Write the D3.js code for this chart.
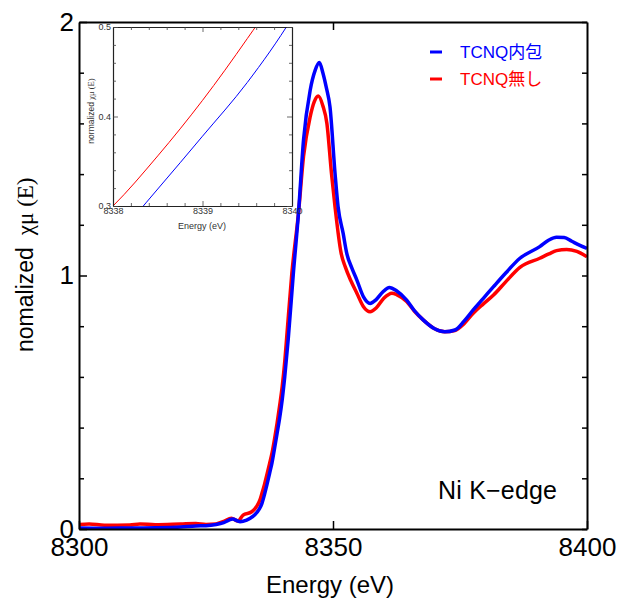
<!DOCTYPE html>
<html>
<head>
<meta charset="utf-8">
<script src="https://cdn.jsdelivr.net/npm/d3@7"></script>
<style>
  body { margin: 0; background: #fff; }
  svg { font-family: "Liberation Sans", Arial, sans-serif; }
</style>
</head>
<body>
<div class="chart"></div>
<script>
// blue: TCNQ内包
const energyBlue = [8300, 8305, 8310, 8315, 8320, 8323, 8325, 8327, 8328.5, 8330.2, 8331.7, 8333, 8333.7, 8335, 8336,
  8336.5, 8337, 8337.5, 8338, 8338.5, 8339, 8339.5, 8340, 8340.5, 8341.2, 8342.2, 8343.2, 8344.2, 8345.5, 8346.5,
  8347.3, 8348, 8348.7, 8349.4, 8350.4, 8351, 8352, 8352.7, 8353.7, 8354.7, 8356, 8357.3, 8358.5, 8359.8, 8361.1,
  8362.5, 8364.5, 8366, 8367.8, 8370, 8372, 8374, 8375.8, 8377.6, 8379.6, 8381.6, 8384, 8386.8, 8390.7, 8392.5,
  8394, 8395.5, 8397, 8398.5, 8400];
const muBlue = [0.004, 0.003, 0.004, 0.005, 0.008, 0.012, 0.013, 0.018, 0.025, 0.039, 0.029, 0.035, 0.042, 0.065, 0.1,
  0.135, 0.175, 0.218, 0.262, 0.319, 0.378, 0.438, 0.51, 0.6, 0.752, 1.009, 1.245, 1.535, 1.73, 1.81,
  1.84, 1.8, 1.74, 1.666, 1.403, 1.271, 1.166, 1.088, 1.03, 0.982, 0.916, 0.89, 0.905, 0.935, 0.953,
  0.94, 0.903, 0.862, 0.824, 0.79, 0.778, 0.785, 0.82, 0.864, 0.91, 0.956, 1.01, 1.068, 1.114, 1.14,
  1.151, 1.15, 1.135, 1.12, 1.107];

// red: TCNQ無し
const energyRed = [8300, 8302, 8305, 8310, 8312, 8315, 8320, 8323, 8325, 8327, 8328.5, 8330, 8331.3, 8332.3, 8334,
  8335, 8335.6, 8336, 8336.5, 8337, 8337.5, 8338, 8338.5, 8339, 8339.5, 8340, 8340.5, 8340.9, 8341.9, 8343.2, 8344.2,
  8345.5, 8346.3, 8347.1, 8348, 8348.8, 8349.7, 8350.4, 8351.6, 8352.4, 8353.5, 8354.7, 8356, 8357.3, 8358.5,
  8360, 8361.6, 8362.5, 8364.5, 8366, 8367.8, 8370, 8372, 8374, 8375.8, 8377.6, 8379.6, 8381.6, 8384, 8386.8,
  8390.7, 8392.5, 8394, 8396, 8398, 8400];
const muRed = [0.018, 0.02, 0.015, 0.016, 0.02, 0.017, 0.02, 0.022, 0.018, 0.02, 0.03, 0.042, 0.032, 0.055, 0.068,
  0.09, 0.114, 0.14, 0.175, 0.215, 0.257, 0.3, 0.356, 0.418, 0.487, 0.562, 0.66, 0.76, 1.009, 1.245, 1.47,
  1.626, 1.685, 1.708, 1.67, 1.6, 1.403, 1.271, 1.088, 1.035, 0.98, 0.93, 0.877, 0.857, 0.872,
  0.91, 0.93, 0.925, 0.897, 0.86, 0.824, 0.79, 0.778, 0.783, 0.81, 0.851, 0.888, 0.923, 0.975, 1.032,
  1.068, 1.085, 1.098, 1.103, 1.095, 1.074];

const seriesNames = ["TCNQ内包", "TCNQ無し"];
const seriesColors = ["#0000ff", "#ff0000"];

const xTicks = [8300, 8350, 8400];
const yTicks = [0, 1, 2];
const insetXTicks = [8338, 8339, 8340];
const insetYTicks = [0.3, 0.4, 0.5];

const blueData = energyBlue.map((e, i) => ({e: e, v: muBlue[i]}));
const redData = energyRed.map((e, i) => ({e: e, v: muRed[i]}));
const series = [blueData, redData];

const margin = {top: 22, left: 79, right: 30, bottom: 69};
const width = 617 - margin.left - margin.right,
    height = 598 - margin.top - margin.bottom;

const svg = d3.select(".chart")
    .append("svg")
    .attr("width", 617)
    .attr("height", 598);

const gr = svg.append("g")
    .attr("transform", "translate(" + margin.left + "," + margin.top + ")");

const xScale = d3.scaleLinear().domain([8300, 8400]).range([0, width]);
const yScale = d3.scaleLinear().domain([0, 2]).range([height, 0]);

gr.append("clipPath").attr("id", "mainclip")
    .append("rect").attr("width", width).attr("height", height);

const line = d3.line()
    .x(d => xScale(d.e))
    .y(d => yScale(d.v))
    .curve(d3.curveMonotoneX);

// red first, blue on top
gr.append("g").attr("clip-path", "url(#mainclip)")
    .selectAll("path")
    .data([series[1], series[0]])
    .join("path")
    .attr("d", line)
    .attr("fill", "none")
    .attr("stroke", (d, i) => i === 0 ? seriesColors[1] : seriesColors[0])
    .attr("stroke-width", 3.5)
    .attr("stroke-linejoin", "round");

// axes, ticks pointing inward
const minorY = d3.range(0, 2.001, 0.2);
function styleAxis(g) {
    g.select(".domain").attr("stroke", "#000").attr("stroke-width", 2);
    g.selectAll(".tick line").attr("stroke", "#000").attr("stroke-width", 1.5);
}

const xAxis = d3.axisBottom(xScale).tickValues(xTicks).tickSizeInner(-8).tickSizeOuter(0).tickPadding(9)
    .tickFormat(d3.format("d"));
gr.append("g").attr("class", "axis x-axis")
    .attr("transform", "translate(0," + height + ")")
    .call(xAxis)
    .call(styleAxis)
    .selectAll("text").attr("font-size", 26).attr("fill", "#000");

gr.append("g").attr("class", "axis x-top")
    .call(d3.axisTop(xScale).tickValues([8350]).tickSizeInner(-8).tickSizeOuter(0).tickFormat(""))
    .call(styleAxis);

const yAxis = d3.axisLeft(yScale).tickValues(minorY).tickSizeInner(-5).tickSizeOuter(0).tickPadding(5)
    .tickFormat(d => yTicks.includes(Math.round(d * 10) / 10) ? d3.format("d")(d) : "");
gr.append("g").attr("class", "axis y-axis")
    .call(yAxis)
    .call(styleAxis)
    .call(g => g.selectAll(".tick line").filter(d => yTicks.includes(Math.round(d * 10) / 10)).attr("x2", 8))
    .selectAll("text").attr("font-size", 26).attr("fill", "#000");

gr.append("g").attr("class", "axis y-right")
    .attr("transform", "translate(" + width + ",0)")
    .call(d3.axisRight(yScale).tickValues(minorY).tickSizeInner(-5).tickSizeOuter(0).tickFormat(""))
    .call(styleAxis);

// titles
svg.append("text")
    .attr("x", 330).attr("y", 593)
    .attr("text-anchor", "middle")
    .attr("font-size", 24)
    .text("Energy (eV)");

const yl = svg.append("text")
    .attr("transform", "translate(33,352) rotate(-90)")
    .attr("font-size", 23);
yl.append("tspan").text("nomalized");
yl.append("tspan").attr("dx", 12).attr("font-family", "'Liberation Serif', 'Times New Roman', serif").text("χμ (E)");

svg.append("text")
    .attr("x", 438).attr("y", 499)
    .attr("font-size", 25)
    .attr("textLength", 119)
    .text("Ni K−edge");

// legend
const legend = svg.append("g").attr("class", "legend");
seriesNames.forEach((name, i) => {
    const ly = 52 + i * 27;
    legend.append("line")
        .attr("x1", 430).attr("x2", 442).attr("y1", ly).attr("y2", ly)
        .attr("stroke", seriesColors[i]).attr("stroke-width", 3);
    legend.append("text")
        .attr("x", 460).attr("y", ly + 6)
        .attr("font-size", 17)
        .attr("font-family", "'Liberation Sans', 'Noto Sans CJK JP', sans-serif")
        .attr("fill", seriesColors[i])
        .text(name);
});

// inset
const inset = {left: 113, top: 27, w: 179, h: 179};
const ig = svg.append("g").attr("transform", "translate(" + inset.left + "," + inset.top + ")");
ig.append("rect").attr("width", inset.w).attr("height", inset.h).attr("fill", "#fff");

const ix = d3.scaleLinear().domain([8338, 8340]).range([0, inset.w]);
const iy = d3.scaleLinear().domain([0.3, 0.5]).range([inset.h, 0]);

ig.append("clipPath").attr("id", "insetclip")
    .append("rect").attr("width", inset.w).attr("height", inset.h);

const iline = d3.line()
    .x(d => ix(d.e))
    .y(d => iy(d.v))
    .curve(d3.curveMonotoneX);

ig.append("g").attr("clip-path", "url(#insetclip)")
    .selectAll("path")
    .data(series)
    .join("path")
    .attr("d", iline)
    .attr("fill", "none")
    .attr("stroke", (d, i) => seriesColors[i])
    .attr("stroke-width", 1);

const ixMinor = d3.range(8338, 8340.001, 0.2);
const iyMinor = d3.range(0.3, 0.5001, 0.02);
const isMajX = d => insetXTicks.some(t => Math.abs(t - d) < 1e-6);
const isMajY = d => insetYTicks.some(t => Math.abs(t - d) < 1e-6);

function styleInset(g) {
    g.select(".domain").attr("stroke", "#222").attr("stroke-width", 1.2);
    g.selectAll(".tick line").attr("stroke", "#444").attr("stroke-width", 0.8);
    g.selectAll(".tick text").attr("font-size", 9).attr("fill", "#333");
}

ig.append("g").attr("transform", "translate(0," + inset.h + ")")
    .call(d3.axisBottom(ix).tickValues(ixMinor).tickSizeInner(-3).tickSizeOuter(0).tickPadding(2)
        .tickFormat(d => isMajX(d) ? d3.format("d")(d) : ""))
    .call(styleInset)
    .call(g => g.selectAll(".tick line").filter(isMajX).attr("y2", -5));

ig.append("g")
    .call(d3.axisTop(ix).tickValues(ixMinor).tickSizeInner(-3).tickSizeOuter(0).tickFormat(""))
    .call(styleInset)
    .call(g => g.selectAll(".tick line").filter(isMajX).attr("y2", 5));

ig.append("g")
    .call(d3.axisLeft(iy).tickValues(iyMinor).tickSizeInner(-3).tickSizeOuter(0).tickPadding(2)
        .tickFormat(d => isMajY(d) ? d3.format(".1f")(d) : ""))
    .call(styleInset)
    .call(g => g.selectAll(".tick line").filter(isMajY).attr("x2", 5));

ig.append("g").attr("transform", "translate(" + inset.w + ",0)")
    .call(d3.axisRight(iy).tickValues(iyMinor).tickSizeInner(-3).tickSizeOuter(0).tickFormat(""))
    .call(styleInset)
    .call(g => g.selectAll(".tick line").filter(isMajY).attr("x2", -5));

svg.append("text")
    .attr("x", 202).attr("y", 229)
    .attr("text-anchor", "middle")
    .attr("font-size", 9).attr("fill", "#333")
    .text("Energy (eV)");

const iyl = svg.append("text")
    .attr("transform", "translate(94,111) rotate(-90)")
    .attr("text-anchor", "middle")
    .attr("font-size", 8.5).attr("fill", "#333");
iyl.append("tspan").text("normalized ");
iyl.append("tspan").attr("font-family", "'Liberation Serif', serif").text("χμ (E)");
</script>
</body>
</html>
